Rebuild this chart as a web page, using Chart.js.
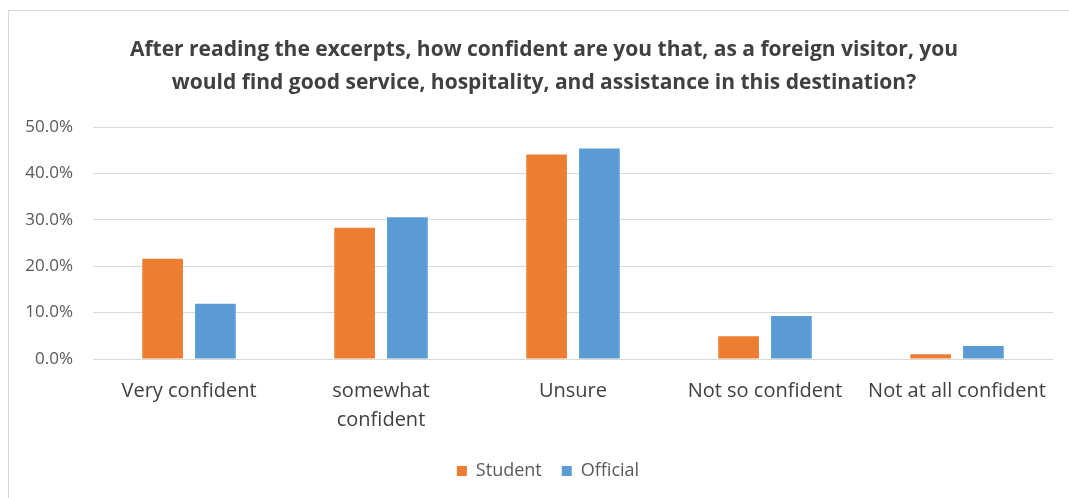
<!DOCTYPE html>
<html lang="en">
<head>
    <meta charset="UTF-8">
    <title>Confidence in service, hospitality and assistance</title>
    <script src="https://cdn.jsdelivr.net/npm/chart.js"></script>
    <style>
        body {
            margin: 0;
            background: #ffffff;
        }
        #box {
            position: absolute;
            left: 8px;
            top: 10px;
            width: 1060px;
            height: 487px;
            border: 1px solid #d9d9d9;
            border-right: none;
            border-bottom: none;
        }
    </style>
</head>
<body>
    <div id="box">
        <canvas id="myChart"></canvas>
    </div>

    <script>
        'use strict';
        // values, in percent
        var categories = ['Very confident', ['somewhat', 'confident'], 'Unsure', 'Not so confident', 'Not at all confident'];
        var studentValues = [21.6, 28.3, 44.1, 4.9, 1.0];
        var officialValues = [11.9, 30.6, 45.4, 9.3, 2.8];
        var yTicks = [0, 10, 20, 30, 40, 50];

        var fontFamily = '"Open Sans", sans-serif';

        // title and legend sit a little right of the canvas centre in the original
        var shiftBlocks = {
            id: 'shiftBlocks',
            afterLayout: function (chart) {
                chart.titleBlock.left += 13;
                chart.titleBlock.right += 13;
                chart.legend.left += 17;
                chart.legend.right += 17;
            }
        };

        var ctx = document.getElementById('myChart').getContext('2d');
        var myChart = new Chart(ctx, {
            type: 'bar',
            data: {
                labels: categories,
                datasets: [{
                    label: 'Student',
                    data: studentValues,
                    backgroundColor: '#ED7D31'
                }, {
                    label: 'Official',
                    data: officialValues,
                    backgroundColor: '#5B9BD5'
                }]
            },
            plugins: [shiftBlocks],
            options: {
                responsive: true,
                maintainAspectRatio: false,
                animation: false,
                categoryPercentage: 0.55,
                barPercentage: 0.77,
                layout: {
                    padding: { left: 0, right: 16, top: 0, bottom: 8 }
                },
                scales: {
                    x: {
                        grid: { display: false },
                        border: { display: false },
                        ticks: {
                            color: '#404040',
                            padding: 10,
                            maxRotation: 0,
                            autoSkip: false,
                            font: { family: fontFamily, size: 20, lineHeight: 1.45 }
                        },
                        afterFit: function (scale) { scale.height = 83; }
                    },
                    y: {
                        min: 0,
                        max: 50,
                        afterBuildTicks: function (scale) {
                            scale.ticks = yTicks.map(function (v) { return { value: v }; });
                        },
                        grid: { color: '#d9d9d9', drawTicks: false },
                        border: { display: false },
                        ticks: {
                            color: '#595959',
                            padding: 20,
                            font: { family: fontFamily, size: 17 },
                            callback: function (value) { return value.toFixed(1) + '%'; }
                        },
                        afterFit: function (scale) { scale.width = 84; }
                    }
                },
                plugins: {
                    title: {
                        display: true,
                        text: ['After reading the excerpts, how confident are you that, as a foreign visitor, you',
                               'would find good service, hospitality, and assistance in this destination?'],
                        color: '#404040',
                        font: { family: fontFamily, size: 21, weight: 'bold', lineHeight: 1.6 },
                        padding: { top: 22, bottom: 27 }
                    },
                    legend: {
                        position: 'bottom',
                        labels: {
                            color: '#595959',
                            boxWidth: 10,
                            boxHeight: 10,
                            padding: 20,
                            font: { family: fontFamily, size: 18 }
                        }
                    },
                    tooltip: { enabled: false }
                }
            }
        });
    </script>
</body>
</html>
